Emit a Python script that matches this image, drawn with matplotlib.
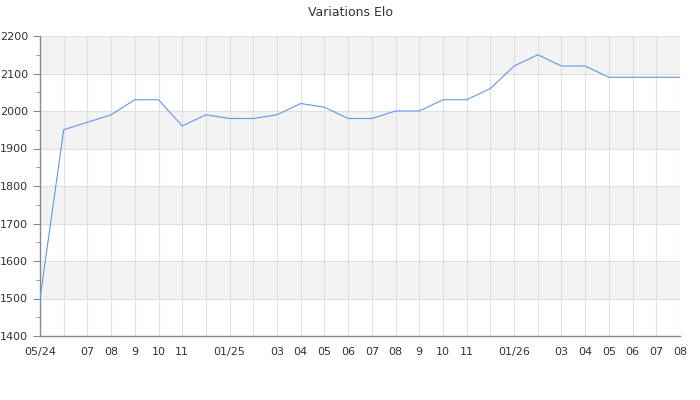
import numpy as np
import matplotlib
matplotlib.use('Agg')
import matplotlib.pyplot as plt
from matplotlib.ticker import MultipleLocator

month_labels = ['05/24', '', '07', '08', '9', '10', '11', '', '01/25', '', '03', '04', '05', '06',
                '07', '08', '9', '10', '11', '', '01/26', '', '03', '04', '05', '06', '07', '08']
elo = [1500, 1950, 1970, 1990, 2030, 2030, 1960, 1990, 1980, 1980, 1990, 2020, 2010, 1980,
       1980, 2000, 2000, 2030, 2030, 2060, 2120, 2150, 2120, 2120, 2090, 2090, 2090, 2090]
bands = [1500, 1700, 1900, 2100]  # lower edges of grey bands

x = np.arange(len(elo))

fig = plt.figure(figsize=(7, 4), dpi=100)
ax = fig.add_axes([40 / 700, 64 / 400, 640 / 700, 300 / 400])

for b in bands:
    ax.axhspan(b, b + 100, color='#f3f3f3', zorder=0, lw=0)

ax.plot(x, elo, color='#6495ed', lw=0.8, zorder=3)

ax.set_xlim(0, len(elo) - 1)
ax.set_ylim(1400, 2200)
ax.set_xticks(x)
ax.set_xticklabels(month_labels)
ax.yaxis.set_major_locator(MultipleLocator(100))
ax.yaxis.set_minor_locator(MultipleLocator(50))

ax.grid(True, which='major', color='#e0e0e0', lw=0.8, zorder=1)
ax.set_axisbelow(True)
for s in ['top', 'right']:
    ax.spines[s].set_visible(False)
for s in ['left', 'bottom']:
    ax.spines[s].set_color('#888888')
    ax.spines[s].set_linewidth(1.0)

ax.tick_params(axis='x', length=0, pad=8, labelsize=8, labelcolor='#333333')
ax.tick_params(axis='y', which='major', length=5, color='#888888', labelsize=8, labelcolor='#333333')
ax.tick_params(axis='y', which='minor', length=3, color='#888888')

fig.suptitle('Variations Elo', y=0.985, fontsize=9, color='#333333')

fig.savefig('out.png', dpi=100)
